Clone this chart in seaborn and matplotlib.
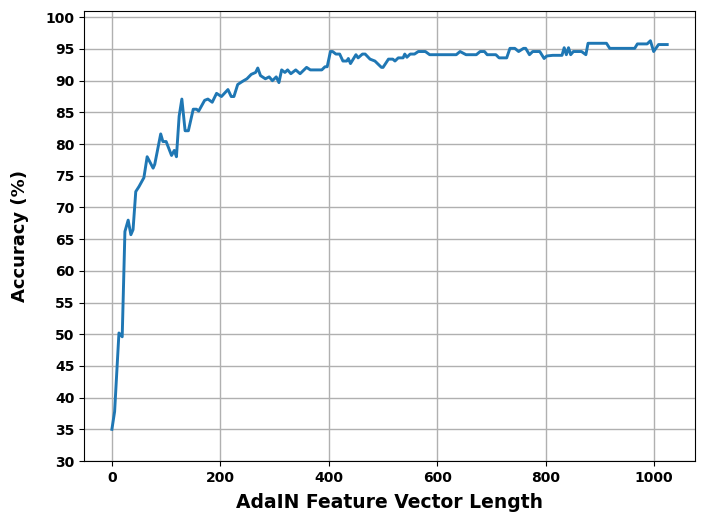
import pandas as pd
import matplotlib
matplotlib.use("Agg")
import matplotlib.pyplot as plt
import seaborn as sns

vector_length = [0, 5, 13, 19, 24, 30, 35, 39, 44, 50, 59, 65, 76, 79, 90, 94, 100, 110, 115, 119,
                 124, 129, 135, 141, 150, 156, 160, 171, 177, 185, 193, 202, 214, 220, 225, 232,
                 241, 249, 257, 265, 269, 274, 283, 290, 296, 303, 308, 313, 319, 324, 330, 339,
                 347, 359, 366, 387, 393, 397, 403, 407, 413, 420, 426, 433, 436, 440, 450, 454,
                 462, 467, 476, 485, 497, 500, 510, 518, 522, 528, 537, 540, 544, 550, 558, 565,
                 578, 586, 635, 642, 653, 672, 679, 687, 692, 708, 714, 728, 734, 743, 750, 759,
                 763, 770, 776, 789, 797, 802, 813, 830, 834, 838, 842, 846, 851, 866, 874, 878,
                 885, 912, 918, 964, 969, 987, 993, 999, 1008, 1024]
accuracy = [35.0, 37.8, 50.2, 49.6, 66.2, 68.0, 65.7, 66.5, 72.5, 73.3, 74.7, 78.0, 76.2, 76.8,
            81.6, 80.4, 80.4, 78.2, 79.0, 78.0, 84.4, 87.1, 82.1, 82.1, 85.5, 85.5, 85.2, 86.9,
            87.1, 86.6, 88.0, 87.5, 88.6, 87.5, 87.5, 89.4, 89.9, 90.3, 91.0, 91.3, 92.0, 90.8,
            90.3, 90.6, 90.0, 90.6, 89.7, 91.7, 91.3, 91.7, 91.1, 91.7, 91.1, 92.1, 91.7, 91.7,
            92.2, 92.2, 94.6, 94.6, 94.2, 94.2, 93.1, 93.1, 93.5, 92.7, 94.1, 93.6, 94.2, 94.2,
            93.4, 93.1, 92.1, 92.1, 93.4, 93.4, 93.1, 93.6, 93.6, 94.2, 93.7, 94.2, 94.2, 94.6,
            94.6, 94.1, 94.1, 94.6, 94.1, 94.1, 94.6, 94.6, 94.1, 94.1, 93.6, 93.6, 95.1, 95.1,
            94.6, 95.1, 95.1, 94.1, 94.6, 94.6, 93.5, 93.9, 94.0, 94.0, 95.2, 94.1, 95.2, 94.1,
            94.6, 94.6, 94.1, 95.9, 95.9, 95.9, 95.1, 95.1, 95.8, 95.8, 96.3, 94.6, 95.7, 95.7]

df = pd.DataFrame({"length": vector_length, "acc": accuracy})

fig = plt.figure(figsize=(7.07, 5.12), dpi=100)
ax = fig.add_axes([0.119, 0.0996, 0.864, 0.879])

sns.lineplot(data=df, x="length", y="acc", ax=ax, color="#1f77b4", linewidth=2.1)

ax.set_ylim(30, 101)
ax.set_yticks(range(30, 101, 5))
ax.set_xticks(range(0, 1001, 200))
ax.grid(True, color="#b0b0b0", linewidth=1.0)
ax.set_axisbelow(True)

ax.set_xlabel("AdaIN Feature Vector Length", fontsize=13.5, fontweight="bold", labelpad=6)
ax.set_ylabel("Accuracy (%)", fontsize=13, fontweight="bold", labelpad=12)
for lbl in ax.get_xticklabels() + ax.get_yticklabels():
    lbl.set_fontweight("bold")
    lbl.set_fontsize(10)

fig.savefig("out.png", dpi=100)
